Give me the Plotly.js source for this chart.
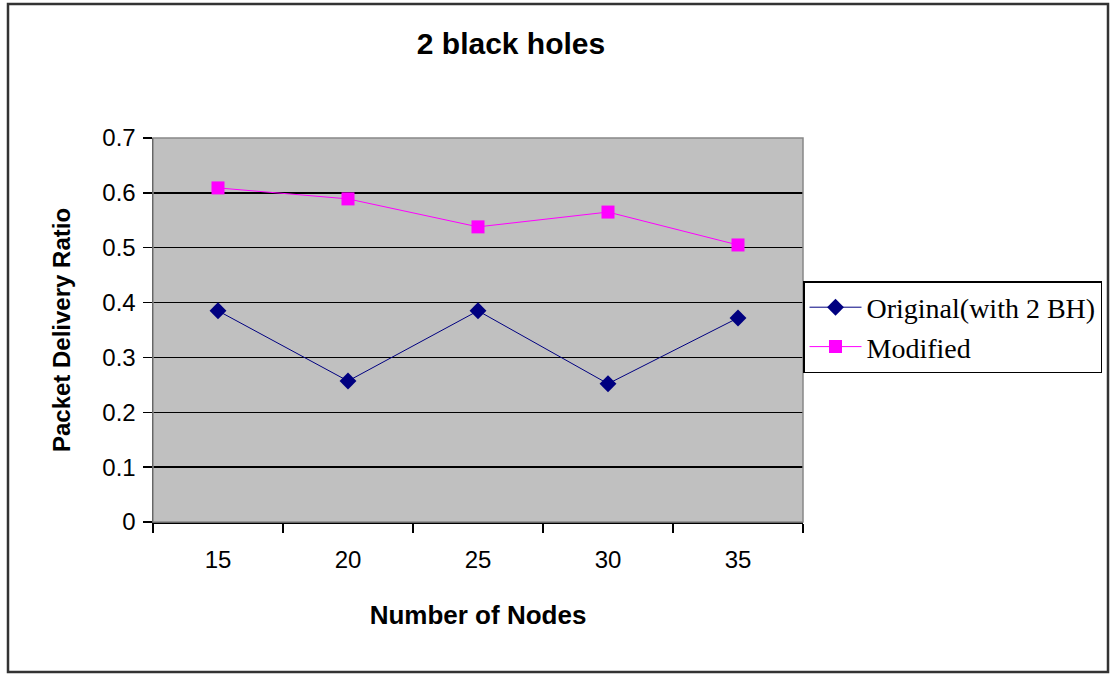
<!DOCTYPE html>
<html><head><meta charset="utf-8">
<script src="https://cdn.plot.ly/plotly-3.0.1.min.js"></script>
<style>html,body{margin:0;padding:0;background:#fff}#chart{width:1114px;height:675px}</style>
</head><body><div id="chart"></div>
<script>
const categories = ["15", "20", "25", "30", "35"];
const originalValues = [0.385, 0.257, 0.385, 0.252, 0.372];
const modifiedValues = [0.609, 0.589, 0.538, 0.565, 0.505];
const yTicks = [0, 0.1, 0.2, 0.3, 0.4, 0.5, 0.6, 0.7];
const yTickLabels = ["0", "0.1", "0.2", "0.3", "0.4", "0.5", "0.6", "0.7"];

const L = 153, R = 311, T = 138, B = 153, W = 1114 - L - R, H = 675 - T - B;
const px = x => (x - L) / W;
const py = y => (675 - B - y) / H;
const SANS = "Arial, Liberation Sans";

const traces = [
  {x: categories, y: originalValues, name: "Original(with 2 BH)", type: "scatter", mode: "lines+markers",
   line: {color: "#000080", width: 1}, marker: {symbol: "diamond", size: 13, color: "#000080"}},
  {x: categories, y: modifiedValues, name: "Modified", type: "scatter", mode: "lines+markers",
   line: {color: "#FF00FF", width: 1}, marker: {symbol: "square", size: 13, color: "#FF00FF"}}
];

const layout = {
  width: 1114, height: 675,
  margin: {l: L, r: R, t: T, b: B},
  paper_bgcolor: "#ffffff", plot_bgcolor: "#C0C0C0",
  showlegend: true,
  title: {text: "<b>2 black holes</b>", font: {family: SANS, size: 30, color: "#000"},
          x: px(511), xref: "paper", xanchor: "center", y: 1 - 43/675, yanchor: "middle"},
  xaxis: {type: "category", range: [-0.5, 4.5], tickson: "boundaries", ticks: "outside", ticklen: 9,
          tickcolor: "#000", tickwidth: 1.5, showline: true, linecolor: "#000", linewidth: 1.5,
          showgrid: false, zeroline: false, ticklabelstandoff: 16,
          tickfont: {family: SANS, size: 24, color: "#000"},
          title: {text: "<b>Number of Nodes</b>", font: {family: SANS, size: 26, color: "#000"}, standoff: 33}},
  yaxis: {range: [0, 0.7], tickvals: yTicks, ticktext: yTickLabels, ticks: "outside", ticklen: 9,
          tickcolor: "#000", tickwidth: 1.5, showline: true, linecolor: "#000", linewidth: 1.5,
          showgrid: true, gridcolor: "#000", gridwidth: 1.5, zeroline: false, ticklabelstandoff: 2,
          tickfont: {family: SANS, size: 24, color: "#000"},
          title: {text: "<b>Packet Delivery Ratio</b>", font: {family: SANS, size: 24, color: "#000"}, standoff: 25}},
  legend: {x: px(803), y: py(281), xanchor: "left", yanchor: "top", bgcolor: "#fff",
           bordercolor: "#000", borderwidth: 1.5, tracegroupgap: 0, itemwidth: 52,
           font: {family: "Liberation Serif, Times New Roman", size: 28, color: "#000"}},
  shapes: [
    {type: "rect", xref: "paper", yref: "paper", x0: px(8), x1: px(1108), y0: py(672), y1: py(4),
     line: {color: "#333", width: 2.5}, fillcolor: "rgba(0,0,0,0)", layer: "below"},
    {type: "rect", xref: "paper", yref: "paper", x0: 0, x1: 1, y0: 0, y1: 1,
     line: {color: "#888", width: 1.5}, fillcolor: "rgba(0,0,0,0)"}
  ]
};

Plotly.newPlot("chart", traces, layout, {displayModeBar: false, staticPlot: true});
</script>
</body></html>
